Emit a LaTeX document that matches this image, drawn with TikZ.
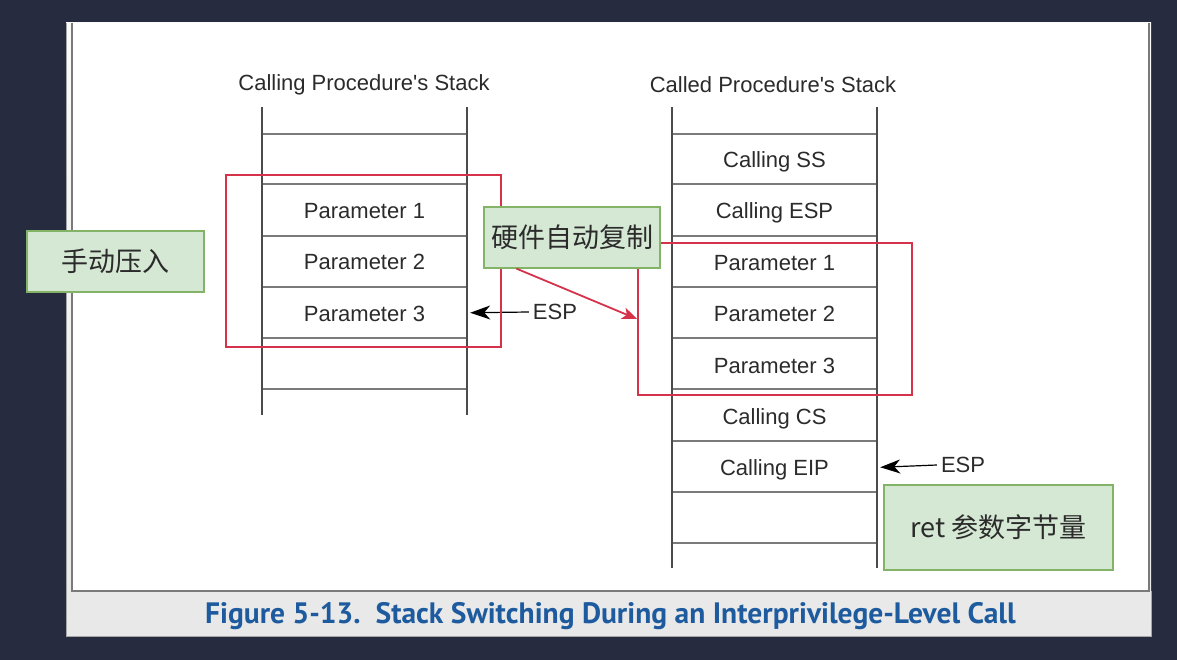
\documentclass[tikz,border=0pt]{standalone}
\usepackage{fontspec}
\setmainfont{Liberation Sans}
\newfontfamily\cjk{Noto Sans CJK SC}
\newfontfamily\capfont{PT Sans}
\usetikzlibrary{arrows.meta,positioning,calc}

\definecolor{bgdark}{HTML}{272B3F}
\definecolor{panelline}{HTML}{7A7A7A}
\definecolor{txtgray}{HTML}{2B2B2B}
\definecolor{notefill}{HTML}{D5E8D4}
\definecolor{notegreen}{HTML}{82B366}
\definecolor{markred}{HTML}{D6334B}
\definecolor{capblue}{HTML}{1D5B9E}

\begin{document}
\begin{tikzpicture}[x=1pt,y=-1pt,
  cell/.style={minimum width=205pt,minimum height=51pt,inner sep=0pt,
    text height=17pt,text depth=0pt,font=\fontsize{22}{26}\selectfont,text=txtgray},
  heading/.style={font=\fontsize{22}{26}\selectfont,text=txtgray},
  note/.style={draw=notegreen,fill=notefill,line width=1.2pt,inner sep=0pt,
    font=\cjk\fontsize{27}{32}\selectfont,text=txtgray},
  redbox/.style={draw=markred,line width=1.8pt,inner sep=0pt},
  rule/.style={draw=panelline,line width=1.8pt},
  post/.style={draw=txtgray!85,line width=1.8pt},
  esparrow/.style={-{Stealth[length=20pt,width=14pt,inset=6pt]},line width=1.2pt,black,shorten >=3pt}]
% Screen and panel
\fill[bgdark] (0,0) rectangle (1177,660);
\shade[top color=gray!4,bottom color=gray!18] (66,23) rectangle (1151,636);
\draw[gray!70,line width=1pt] (66,23) -- (66,636) -- (1151,636) -- (1151,591);
\fill[white] (72,23) rectangle (1149,591);
\draw[panelline,line width=2.5pt] (72,23) -- (72,591) -- (1149,591) -- (1149,23);

% Calling procedure's stack
\node[heading] (ltitle) at (364,85) {Calling Procedure\textquotesingle s Stack};
\foreach \y in {134,184,236,287,338,389}
  \draw[rule] (262,\y) -- (467,\y);
\foreach \x in {262,467}
  \draw[post] (\x,107) -- (\x,415);
\node[cell] (lp1) at (364.5,210) {Parameter 1};
\node[cell,below=0pt of lp1] (lp2) {Parameter 2};
\node[cell,below=0pt of lp2] (lp3) {Parameter 3};

% Called procedure's stack
\node[heading] (rtitle) at (773,85) {Called Procedure\textquotesingle s Stack};
\foreach \y in {134,184,236,287,338,389,441,492,543}
  \draw[rule] (672,\y) -- (877,\y);
\foreach \x in {672,877}
  \draw[post] (\x,107) -- (\x,568);
\node[cell] (rss) at (774.5,159) {Calling SS};
\node[cell,below=0pt of rss] (resp) {Calling ESP};
\node[cell,below=0pt of resp] (rp1) {Parameter 1};
\node[cell,below=0pt of rp1] (rp2) {Parameter 2};
\node[cell,below=0pt of rp2] (rp3) {Parameter 3};
\node[cell,below=0pt of rp3] (rcs) {Calling CS};
\node[cell,below=0pt of rcs] (reip) {Calling EIP};

% Stack pointers
\node[heading,inner sep=4pt] (lesp) at (555,312) {ESP};
\draw[esparrow] (lesp.west) -- (lp3.east);
\node[heading,inner sep=4pt] (resp2) at (963,465) {ESP};
\draw[esparrow] (resp2.west) -- (reip.east);

% Marked areas
\node[redbox,minimum width=275pt,minimum height=172pt] (lbox) at (363.5,261) {};
\node[redbox,minimum width=274pt,minimum height=152pt] (rbox) at (775,319) {};

% Notes
\node[note,minimum width=177pt,minimum height=61pt] (manual) at (115.5,261.5) {手动压入};
\node[note,minimum width=176pt,minimum height=61pt] (hw) at (572,237.5) {硬件自动复制};
\node[note,minimum width=229pt,minimum height=85pt] (ret) at (998.5,527.5) {ret 参数字节量};
\draw[markred,line width=1.8pt,-{Stealth[length=15pt,width=12pt,inset=4pt]}]
  ([xshift=33pt]hw.south west) -- (rbox.west);

% Caption
\node[font=\capfont\bfseries\fontsize{29.5}{33}\selectfont,text=capblue] (cap) at (610.5,616)
  {Figure 5-13.\ \ Stack Switching During an Interprivilege-Level Call};
\end{tikzpicture}
\end{document}
